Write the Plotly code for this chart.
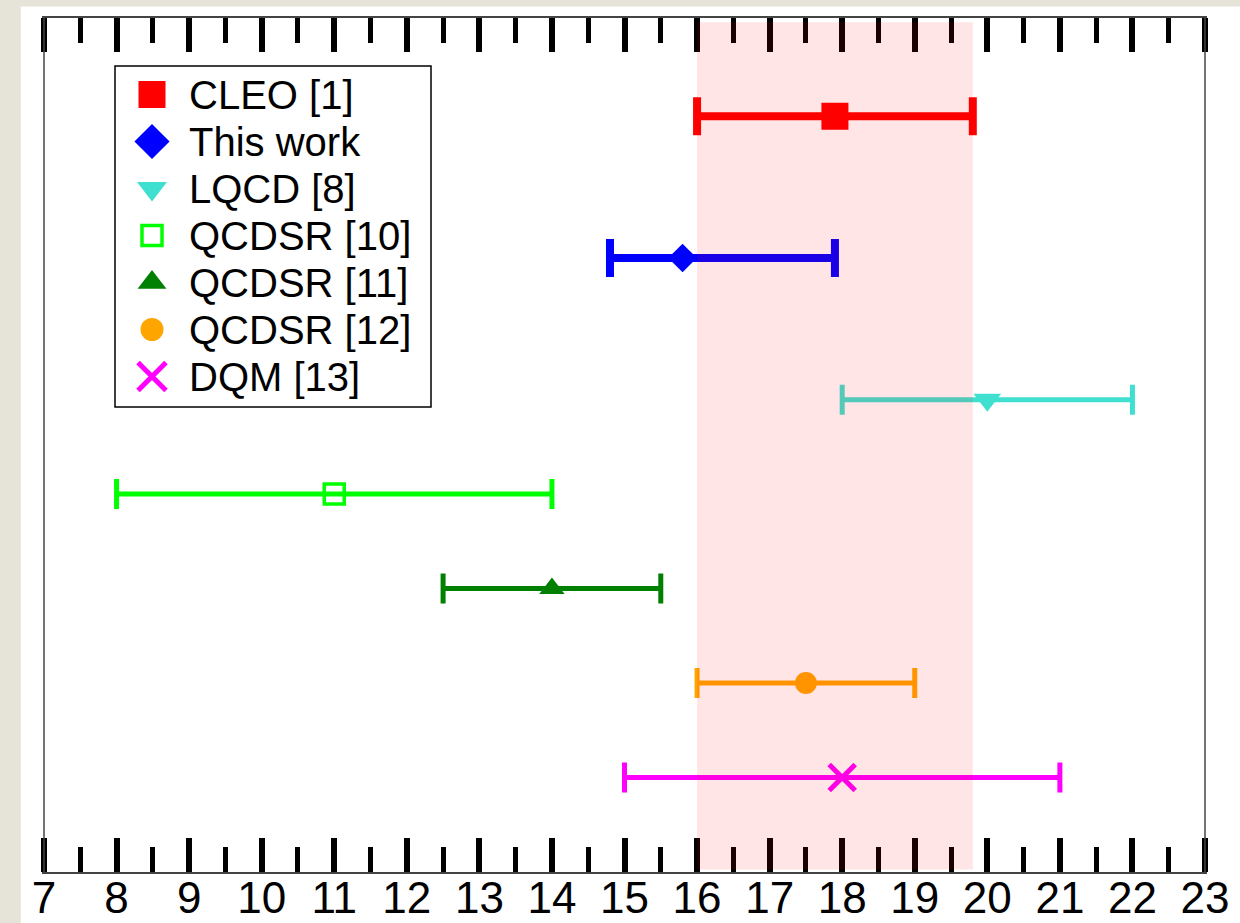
import plotly.graph_objects as go

# ---- data ----
names = ["CLEO [1]", "This work", "LQCD [8]", "QCDSR [10]", "QCDSR [11]", "QCDSR [12]", "DQM [13]"]
values = [17.9, 15.8, 20.0, 11.0, 14.0, 17.5, 18.0]
err_plus = [1.9, 2.1, 2.0, 3.0, 1.5, 1.5, 3.0]
err_minus = [1.9, 1.0, 2.0, 3.0, 1.5, 1.5, 3.0]
row_pos = [8, 6.5, 5, 4, 3, 2, 1]
band = [16.0, 19.8]
x_ticks = list(range(7, 24))
x_lo, x_hi = 7, 23

# ---- styles ----
colors = ["#ff0000", "#0000ff", "#40e0d0", "#00ff00", "#008000", "#ffa500", "#ff00ff"]
symbols = ["square", "diamond", "triangle-down", "square-open", "triangle-up", "circle", "x-thin-open"]
msizes = [27, 22, 24, 20, 22, 22, 26]
leg_sizes = [27, 27, 26, 20, 25, 23, 28]
mline = [0, 0, 0, 3.5, 0, 0, 5]
ebar_th = [8, 8, 5, 5, 5, 5, 5]
ebar_w = [19, 19, 15, 15, 15, 15, 15]

FONT = "Liberation Sans, Arial, Helvetica, sans-serif"
PAD = 2 / 72.5625  # 2px beyond the axis ends so the end ticks are drawn

fig = go.Figure()

for i, n in enumerate(names):
    fig.add_trace(go.Scatter(
        x=[values[i]], y=[row_pos[i]], mode="markers", name=n, showlegend=False,
        marker=dict(symbol=symbols[i], size=msizes[i], color=colors[i],
                    line=dict(width=mline[i], color=colors[i])),
        error_x=dict(type="data", symmetric=False, array=[err_plus[i]], arrayminus=[err_minus[i]],
                     color=colors[i], thickness=ebar_th[i], width=ebar_w[i]),
    ))

# manual legend (pixel-space overlay axes)
leg_x_marker = 152
leg_x_text = 187
leg_y0 = 94.5
leg_dy = 47
for i, n in enumerate(names):
    yy = leg_y0 + i * leg_dy
    fig.add_trace(go.Scatter(
        x=[leg_x_marker], y=[yy], xaxis="x2", yaxis="y2", mode="markers", showlegend=False,
        hoverinfo="skip",
        marker=dict(symbol=symbols[i], size=leg_sizes[i], color=colors[i],
                    line=dict(width=mline[i], color=colors[i])),
    ))
    fig.add_annotation(x=leg_x_text, y=yy, xref="x2", yref="y2", text=n, showarrow=False,
                       xanchor="left", yanchor="middle", font=dict(size=40, color="black", family=FONT))

fig.add_shape(type="rect", xref="x2", yref="y2", x0=115, x1=431, y0=66, y1=407,
              line=dict(color="black", width=1.5), fillcolor="white", layer="below")

# white figure sheet on beige page
fig.add_shape(type="rect", xref="paper", yref="paper", x0=-0.0182, x1=1.05, y0=-0.08, y1=1.0135,
              line=dict(width=0), fillcolor="white", layer="below")

# left / right frame lines
for xv in (x_lo, x_hi):
    fig.add_shape(type="line", xref="x", yref="paper", x0=xv, x1=xv, y0=0, y1=1,
                  line=dict(color="#444", width=1.5), layer="above")

# shaded band
fig.add_shape(type="rect", xref="x", yref="paper", x0=band[0], x1=band[1], y0=0.003, y1=0.995,
              line=dict(width=0), fillcolor="rgba(255,0,0,0.1)", layer="above")

fig.update_layout(
    width=1240, height=923,
    margin=dict(l=42, r=33, t=18, b=51),
    paper_bgcolor="#e6e3d8", plot_bgcolor="white",
    font=dict(family=FONT, size=40, color="black"),
    xaxis=dict(range=[x_lo - PAD, x_hi + PAD], tickvals=x_ticks, ticktext=[str(t) for t in x_ticks],
               ticks="inside", ticklen=34, tickwidth=6, tickcolor="black",
               minor=dict(ticks="inside", ticklen=25, tickwidth=5, tickcolor="black", dtick=0.5),
               showline=True, linecolor="#444", linewidth=1.5, mirror="ticks",
               showgrid=False, zeroline=False, tickfont=dict(size=44), automargin=False,
               ticklabelstandoff=-14),
    yaxis=dict(range=[0, 9.04], showticklabels=False, ticks="", showgrid=False, zeroline=False,
               showline=False, automargin=False),
    xaxis2=dict(range=[42, 1207], overlaying="x", anchor="y2", visible=False),
    yaxis2=dict(range=[872, 18], overlaying="y", anchor="x2", visible=False),
)

fig.write_html("out.html")
